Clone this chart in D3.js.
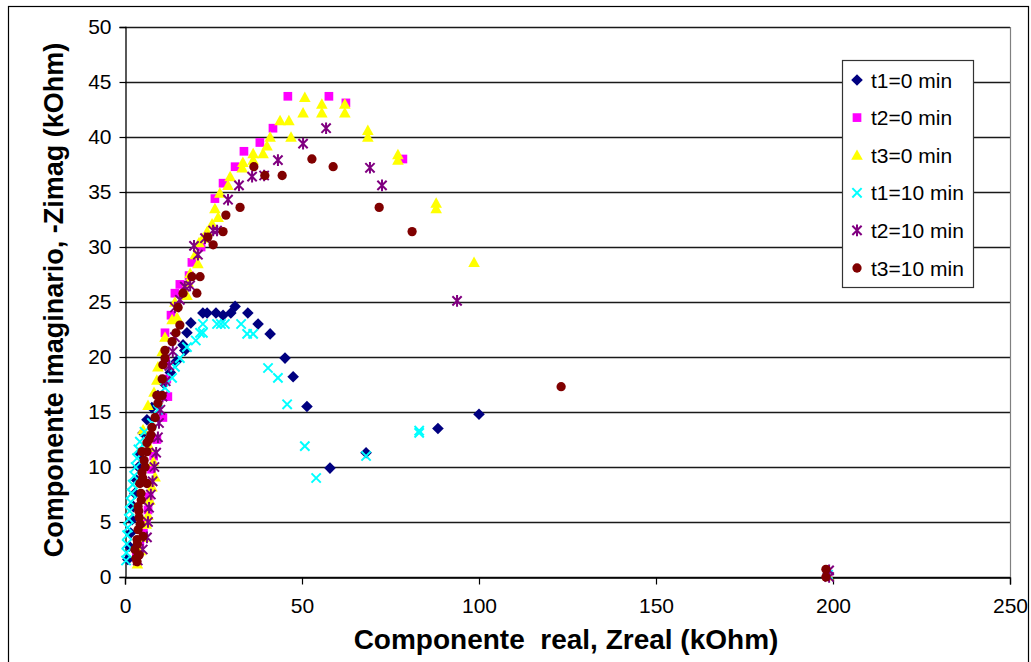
<!DOCTYPE html>
<html>
<head>
<meta charset="utf-8">
<script src="https://cdn.jsdelivr.net/npm/d3@7"></script>
<style>
  html, body { margin: 0; padding: 0; background: #fff; }
  svg { display: block; font-family: "Liberation Sans", Arial, sans-serif; }
</style>
</head>
<body>
<svg id="chart" width="1031" height="662"></svg>
<script>
// Nyquist impedance data, [Zreal, -Zimag] in kOhm
const t1_0 = [[0.8,1.6],[1.2,2.8],[1.6,4.0],[2.0,5.2],[2.4,6.4],[2.8,7.6],[3.3,8.8],[3.8,10.0],[4.3,11.2],[5.1,13.1],[6.2,14.3],[7.6,15.4],[9.3,16.5],[11.0,17.6],[12.8,18.6],[14.5,19.6],[16.4,21.1],[16.9,20.6],[17.5,22.2],[18.6,23.1],[22.0,24.0],[23.2,24.0],[25.7,24.0],[27.7,23.8],[29.9,24.0],[31.1,24.6],[34.7,24.0],[37.6,23.0],[41.0,22.1],[45.2,19.9],[47.5,18.2],[51.4,15.5],[57.9,9.9],[68.1,11.3],[88.4,13.5],[100.0,14.8],[198.6,0.3]];
const t2_0 = [[3.2,1.8],[4.2,3.0],[5.2,4.0],[6.0,5.0],[6.5,6.1],[6.8,7.3],[7.1,8.5],[7.5,9.8],[8.1,11.0],[9.0,12.5],[10.7,14.5],[12.1,16.4],[11.8,18.0],[11.5,19.6],[11.3,22.2],[13.0,23.8],[14.1,25.8],[15.5,26.6],[18.1,27.4],[18.9,28.6],[21.5,30.0],[25.4,34.4],[27.7,35.8],[31.1,37.3],[33.6,38.7],[38.1,39.5],[41.8,40.8],[46.0,43.7],[57.6,43.7],[62.4,43.1],[78.5,38.0],[198.6,0.2]];
const t3_0 = [[3.5,1.2],[4.4,2.4],[5.2,3.6],[6.0,4.8],[6.5,5.6],[7.0,7.0],[7.6,8.2],[8.5,9.1],[8.0,10.5],[7.0,11.8],[5.1,13.4],[6.5,15.6],[8.2,16.8],[9.0,17.9],[9.3,19.1],[10.5,20.5],[11.3,21.8],[13.3,23.4],[14.7,23.6],[14.1,25.0],[17.5,25.6],[17.8,26.8],[18.4,27.6],[20.6,28.5],[19.8,29.3],[20.9,30.4],[22.0,30.8],[23.2,31.4],[24.6,32.1],[26.3,32.7],[25.4,33.5],[26.8,34.9],[29.1,35.6],[29.7,36.4],[33.1,37.2],[33.3,37.7],[36.2,37.9],[36.2,38.5],[39.0,38.5],[40.1,39.2],[41.0,40.0],[46.9,40.0],[43.8,41.5],[46.3,41.5],[50.3,42.2],[50.8,43.6],[55.6,43.0],[55.6,42.2],[62.1,43.0],[62.1,42.2],[68.6,40.6],[68.6,40.0],[77.1,38.4],[77.1,37.9],[87.9,34.0],[87.9,33.5],[98.6,28.6],[198.7,0.1]];
const t1_10 = [[0.3,1.5],[0.4,2.2],[0.5,3.0],[0.6,3.8],[0.8,4.5],[1.1,5.3],[1.3,6.0],[1.6,6.8],[1.9,7.6],[2.2,8.4],[2.6,9.2],[3.0,10.0],[3.4,10.8],[3.8,11.6],[4.2,12.3],[5.5,13.2],[7.6,14.0],[9.3,15.2],[11.3,17.2],[13.3,18.1],[14.1,19.1],[15.5,19.9],[17.5,20.9],[20.0,21.5],[21.2,22.2],[22.0,23.0],[22.0,22.2],[26.0,23.0],[27.1,23.0],[28.2,23.0],[32.8,23.0],[34.5,22.1],[36.2,22.1],[40.4,19.0],[43.2,18.1],[45.8,15.7],[50.8,11.9],[54.0,9.0],[68.1,11.0],[83.1,13.1],[83.1,13.3],[198.6,0.2]];
const t2_10 = [[3.6,1.5],[5.0,2.5],[6.2,3.6],[6.5,5.0],[6.8,6.3],[7.3,7.5],[7.8,8.7],[8.3,10.0],[8.8,11.3],[9.3,12.7],[9.6,14.0],[10.0,15.2],[10.6,16.4],[11.5,17.8],[12.5,19.2],[13.5,20.5],[14.1,21.8],[14.1,24.5],[15.5,25.2],[16.9,26.4],[18.4,26.5],[20.6,29.3],[19.5,30.1],[22.6,30.8],[24.9,31.5],[26.0,31.5],[29.1,34.3],[32.2,35.6],[35.9,36.4],[39.3,36.5],[43.2,37.9],[50.3,39.4],[56.8,40.8],[69.2,37.2],[72.6,35.6],[93.8,25.1],[198.9,0.6],[198.9,0.0]];
const t3_10 = [[3.4,1.4],[3.1,1.7],[4.0,2.0],[2.8,2.5],[3.5,3.0],[3.4,3.4],[5.1,3.7],[3.7,4.3],[4.3,4.8],[4.0,5.4],[3.9,6.0],[3.7,6.4],[4.6,7.0],[4.5,7.6],[4.2,8.5],[6.2,8.5],[5.0,9.0],[4.8,9.5],[5.7,10.0],[5.4,10.6],[4.8,11.4],[6.2,11.4],[6.2,12.2],[6.8,12.5],[7.3,12.9],[7.6,13.6],[8.5,14.5],[9.3,15.8],[9.0,16.5],[10.5,16.5],[10.5,18.0],[10.7,19.3],[11.3,19.9],[11.3,20.6],[13.3,21.4],[14.4,22.2],[15.5,22.9],[15.0,24.5],[16.4,25.8],[20.3,25.8],[18.9,27.3],[21.2,27.3],[24.9,30.2],[23.4,30.9],[27.7,31.4],[28.5,32.9],[32.5,33.6],[36.4,37.3],[39.5,36.5],[44.4,36.5],[52.8,38.0],[58.8,37.3],[71.8,33.6],[81.1,31.4],[123.2,17.3],[198.0,0.7],[198.0,0.0]];

const seriesNames = ["t1=0 min", "t2=0 min", "t3=0 min", "t1=10 min", "t2=10 min", "t3=10 min"];
const seriesData = [t1_0, t2_0, t3_0, t1_10, t2_10, t3_10];
const seriesColors = ["#000080", "#FF00FF", "#FFFF00", "#00FFFF", "#800080", "#800000"];
const seriesShapes = ["diamond", "square", "triangle", "x", "star", "circle"];

const xTicks = [0, 50, 100, 150, 200, 250];
const yTicks = [0, 5, 10, 15, 20, 25, 30, 35, 40, 45, 50];

const svg = d3.select("#chart");

// outer chart border
svg.append("rect")
  .attr("x", 8.5).attr("y", 6.5).attr("width", 1020).attr("height", 670)
  .attr("fill", "#fff").attr("stroke", "#000").attr("stroke-width", 1.2);

const plot = { left: 125, right: 1010, top: 27, bottom: 577 };
const x = d3.scaleLinear().domain([0, 250]).range([plot.left, plot.right]);
const y = d3.scaleLinear().domain([0, 50]).range([plot.bottom, plot.top]);

// horizontal gridlines
svg.append("g")
  .selectAll("line")
  .data(yTicks)
  .join("line")
  .attr("x1", plot.left).attr("x2", plot.right)
  .attr("y1", d => Math.round(y(d)) + 0.5).attr("y2", d => Math.round(y(d)) + 0.5)
  .attr("stroke", "#1a1a1a").attr("stroke-width", 1.3);

// right edge of plot area
svg.append("line")
  .attr("x1", plot.right + 0.5).attr("x2", plot.right + 0.5)
  .attr("y1", plot.top).attr("y2", plot.bottom)
  .attr("stroke", "#808080").attr("stroke-width", 1.2);

// axes
const xAxis = svg.append("g")
  .attr("transform", `translate(0,${plot.bottom + 0.5})`)
  .call(d3.axisBottom(x).tickValues(xTicks).tickSize(7).tickPadding(14).tickFormat(d3.format("d")));
const yAxis = svg.append("g")
  .attr("transform", `translate(${plot.left + 0.5},0)`)
  .call(d3.axisLeft(y).tickValues(yTicks).tickSize(6).tickPadding(8).tickFormat(d3.format("d")));

[xAxis, yAxis].forEach(a => {
  a.select(".domain").attr("stroke", "#000").attr("stroke-width", 1.3);
  a.selectAll(".tick line").attr("stroke", "#000").attr("stroke-width", 1.2);
  a.selectAll(".tick text")
    .attr("fill", "#000")
    .style("font-size", "21px")
    .style("font-family", "'Liberation Sans', Arial, sans-serif");
});

// axis titles
svg.append("text")
  .attr("x", 566).attr("y", 649)
  .attr("text-anchor", "middle")
  .style("font-size", "28px").style("font-weight", "bold")
  .style("white-space", "pre")
  .attr("xml:space", "preserve")
  .text("Componente  real, Zreal (kOhm)");

svg.append("text")
  .attr("transform", "translate(63,300) rotate(-90)")
  .attr("text-anchor", "middle")
  .style("font-size", "27px").style("font-weight", "bold")
  .text("Componente imaginario, -Zimag (kOhm)");

// marker drawing
function markerPath(shape, s) {
  const p = d3.path();
  switch (shape) {
    case "diamond":
      p.moveTo(0, -s); p.lineTo(s, 0); p.lineTo(0, s); p.lineTo(-s, 0); p.closePath(); break;
    case "square":
      p.rect(-s * 0.75, -s * 0.75, s * 1.5, s * 1.5); break;
    case "triangle":
      p.moveTo(0, -s); p.lineTo(s, s * 0.8); p.lineTo(-s, s * 0.8); p.closePath(); break;
    case "circle":
      p.arc(0, 0, s * 0.8, 0, Math.PI * 2); break;
    case "x":
      p.moveTo(-s * 0.8, -s * 0.8); p.lineTo(s * 0.8, s * 0.8);
      p.moveTo(s * 0.8, -s * 0.8); p.lineTo(-s * 0.8, s * 0.8); break;
    case "star":
      p.moveTo(-s * 0.8, -s * 0.8); p.lineTo(s * 0.8, s * 0.8);
      p.moveTo(s * 0.8, -s * 0.8); p.lineTo(-s * 0.8, s * 0.8);
      p.moveTo(0, -s); p.lineTo(0, s); break;
  }
  return p.toString();
}
function styleMarker(sel, i) {
  const shape = seriesShapes[i];
  const stroked = shape === "x" || shape === "star";
  sel.attr("d", markerPath(shape, 5.8))
    .attr("fill", stroked ? "none" : seriesColors[i])
    .attr("stroke", stroked ? seriesColors[i] : "none")
    .attr("stroke-width", stroked ? 2 : 0);
}

seriesData.forEach((data, i) => {
  svg.append("g")
    .selectAll("path")
    .data(data)
    .join("path")
    .attr("transform", d => `translate(${x(d[0])},${y(d[1])})`)
    .call(styleMarker, i);
});

// legend
const legend = svg.append("g");
legend.append("rect")
  .attr("x", 842.5).attr("y", 60.5).attr("width", 131).attr("height", 227)
  .attr("fill", "#fff").attr("stroke", "#333").attr("stroke-width", 1.2);
seriesNames.forEach((name, i) => {
  const ly = 80 + i * 37.6;
  legend.append("path")
    .attr("transform", `translate(857,${ly})`)
    .call(styleMarker, i);
  legend.append("text")
    .attr("x", 871).attr("y", ly + 7.5)
    .style("font-size", "21px")
    .text(name);
});
</script>
</body>
</html>
